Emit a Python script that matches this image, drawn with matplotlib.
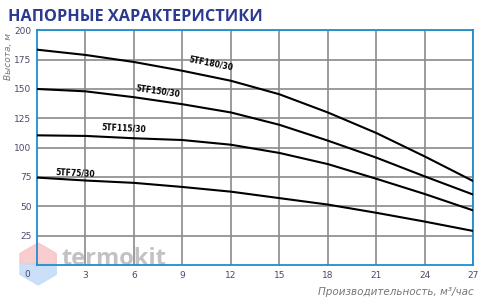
import numpy as np
import matplotlib
matplotlib.use("Agg")
import matplotlib.pyplot as plt
from matplotlib.patches import Polygon

flow = [0, 3, 6, 9, 12, 15, 18, 21, 24, 27]
stf180 = [183.5, 179, 173, 165.5, 157, 145.5, 130, 112.5, 92.5, 71.5]
stf150 = [150, 148, 143, 137, 130, 119.5, 106, 91.5, 75.5, 60]
stf115 = [110.5, 110, 108, 106.5, 102.5, 95.5, 86, 73.5, 60.5, 46.5]
stf75 = [74.5, 72, 70, 66.5, 62.5, 57, 51.5, 44.5, 37, 29]

names = ["5TF180/30", "5TF150/30", "5TF115/30", "5TF75/30"]
series = [stf180, stf150, stf115, stf75]
# label placement (data coords) and rotation
lab_pos = [(10.8, 172, -11), (7.5, 148, -8), (5.4, 117, -3), (2.4, 78, -3)]

xticks = [3, 6, 9, 12, 15, 18, 21, 24, 27]
yticks = [25, 50, 75, 100, 125, 150, 175, 200]

narrow = ["Liberation Sans Narrow", "DejaVu Sans"]
blue = "#1b8fcf"
tickc = "#4a4a6a"

fig = plt.figure(figsize=(4.89, 3.08), dpi=100)

# watermark (drawn first, under everything)
cx, cy, rr = 0.078, 0.143, 0.068
ang = np.deg2rad([30, 90, 150, 210, 270, 330])
hx = cx + rr * np.cos(ang) * 308 / 489
hy = cy + rr * np.sin(ang)
xl, xr = hx[2], hx[0]
top = Polygon([(xr, cy), (hx[0], hy[0]), (hx[1], hy[1]), (hx[2], hy[2]), (xl, cy)],
              closed=True, transform=fig.transFigure, color="#f9c3c7", alpha=0.85, zorder=-2)
bot = Polygon([(xl, cy), (hx[3], hy[3]), (hx[4], hy[4]), (hx[5], hy[5]), (xr, cy)],
              closed=True, transform=fig.transFigure, color="#c2dbf7", alpha=0.85, zorder=-2)
fig.patches.extend([top, bot])
fig.text(0.125, 0.138, "termokit", fontsize=17, fontweight="bold", color="#9a9a9a",
         alpha=0.6, ha="left", va="baseline", family=["Open Sans", "DejaVu Sans"], zorder=-1)

ax = fig.add_axes([0.0757, 0.1396, 0.892, 0.762])
ax.patch.set_alpha(0)

for s in series:
    ax.plot(flow, s, color="black", lw=1.5, zorder=3)

for (x, y, r), n in zip(lab_pos, names):
    ax.text(x, y, n, fontsize=5.5, fontweight="bold", family=narrow, color="black",
            rotation=r, ha="center", va="center", zorder=4)

ax.set_xlim(0, 27)
ax.set_ylim(0, 200)
ax.set_xticks(xticks)
ax.set_yticks(yticks)
ax.grid(True, color="#8a8a8a", lw=1.2)
ax.set_axisbelow(True)
for sp in ax.spines.values():
    sp.set_color(blue)
    sp.set_linewidth(1.3)
ax.tick_params(length=0, labelsize=6.5, labelcolor=tickc, pad=4)
for t in ax.get_xticklabels() + ax.get_yticklabels():
    t.set_family(narrow)
ax.text(-0.023, -0.02, "0", transform=ax.transAxes, fontsize=6.5, color=tickc,
        family=narrow, ha="center", va="top")

ax.text(-0.066, 0.99, "Высота, м", transform=ax.transAxes, rotation=90,
        fontsize=6.5, style="italic", color="#777777", family=narrow,
        ha="center", va="top")
fig.text(0.968, 0.035, "Производительность, м³/час", fontsize=7.5, style="italic",
         color="#777777", family=narrow, ha="right", va="bottom")

fig.text(0.016, 0.945, "НАПОРНЫЕ ХАРАКТЕРИСТИКИ", fontsize=11.7, fontweight="bold",
         color="#2b3990", family=["Open Sans", "DejaVu Sans"], ha="left", va="center")

fig.savefig("out.png", dpi=100)
